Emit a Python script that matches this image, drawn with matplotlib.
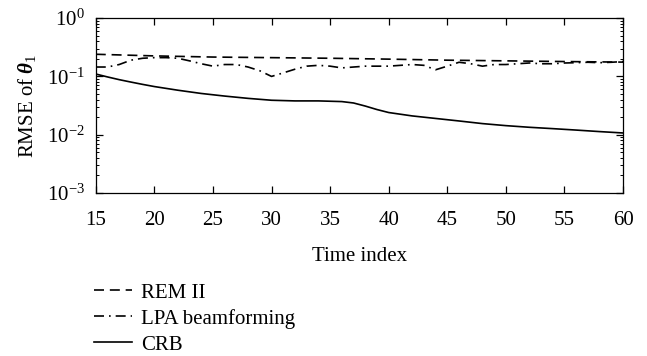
import numpy as np
import matplotlib
matplotlib.use('Agg')
import matplotlib.pyplot as plt
from matplotlib.ticker import LogLocator, NullFormatter

plt.rcParams['font.family'] = 'Liberation Serif'
plt.rcParams['mathtext.fontset'] = 'custom'
plt.rcParams['mathtext.rm'] = 'Liberation Serif'
plt.rcParams['mathtext.it'] = 'Liberation Serif:italic'
plt.rcParams['mathtext.bf'] = 'Liberation Serif:bold'
plt.rcParams['mathtext.bfit'] = 'Liberation Serif:bold:italic'

# data
t_rem = [15, 20, 25, 30, 35, 40, 45, 50, 55, 60]
rem = [0.24, 0.225, 0.215, 0.21, 0.205, 0.198, 0.19, 0.185, 0.18, 0.176]

t_lpa = list(range(15, 61))
lpa = [0.145, 0.145, 0.16, 0.19, 0.205, 0.21, 0.21, 0.205, 0.185, 0.165,
       0.15, 0.16, 0.16, 0.145, 0.125, 0.10, 0.115, 0.133, 0.15, 0.155,
       0.15, 0.14, 0.145, 0.15, 0.15, 0.15, 0.155, 0.16, 0.155, 0.13,
       0.15, 0.175, 0.165, 0.15, 0.16, 0.16, 0.165, 0.17, 0.165, 0.165,
       0.17, 0.172, 0.175, 0.172, 0.175, 0.18]

t_crb = [15, 16, 17, 18, 19, 20, 22, 24, 26, 28, 30, 32, 34, 36, 37, 38, 39,
         40, 42, 44, 46, 48, 50, 52, 54, 56, 58, 60]
crb = [0.11, 0.098, 0.088, 0.08, 0.073, 0.067, 0.058, 0.051, 0.046, 0.042,
       0.039, 0.038, 0.038, 0.037, 0.035, 0.031, 0.027, 0.024, 0.021, 0.019,
       0.0172, 0.0155, 0.0143, 0.0134, 0.0127, 0.012, 0.0113, 0.0107]

fs = 15

fig = plt.figure(figsize=(6.47, 3.56), dpi=100)
ax = fig.add_axes([0.148, 0.458, 0.815, 0.491])

ax.plot(t_rem, rem, color='k', lw=1.2, linestyle=(0, (6, 3.5)), label='REM II')
ax.plot(t_lpa, lpa, color='k', lw=1.2, linestyle=(0, (6, 3, 1, 3)), label='LPA beamforming')
ax.plot(t_crb, crb, color='k', lw=1.2, linestyle='-', label='CRB')

ax.set_yscale('log')
ax.set_xlim(15, 60)
ax.set_ylim(1e-3, 1)
ax.set_xticks(range(15, 61, 5))
ax.yaxis.set_major_locator(LogLocator(base=10, numticks=10))
ax.yaxis.set_minor_locator(LogLocator(base=10, subs=np.arange(2, 10), numticks=10))
ax.yaxis.set_minor_formatter(NullFormatter())
ax.tick_params(which='both', direction='in', top=True, right=True, labelsize=fs)
ax.tick_params(which='major', length=5, width=0.9)
ax.tick_params(axis='x', pad=13)
ax.tick_params(axis='y', pad=8)
ax.tick_params(which='minor', length=2.5, width=0.7)
for s in ax.spines.values():
    s.set_linewidth(0.9)

ax.set_xlabel('Time index', fontsize=fs, labelpad=12)
ax.set_ylabel(r'RMSE of $\mathbfit{\theta}_1$', fontsize=fs, labelpad=6)

h, l = ax.get_legend_handles_labels()
fig.legend(h, l, loc='upper left', bbox_to_anchor=(0.146, 0.205), frameon=False,
           fontsize=fs, handlelength=1.8, handletextpad=0.45, labelspacing=0.3,
           borderpad=0, borderaxespad=0)

fig.savefig('out.png', dpi=100)
